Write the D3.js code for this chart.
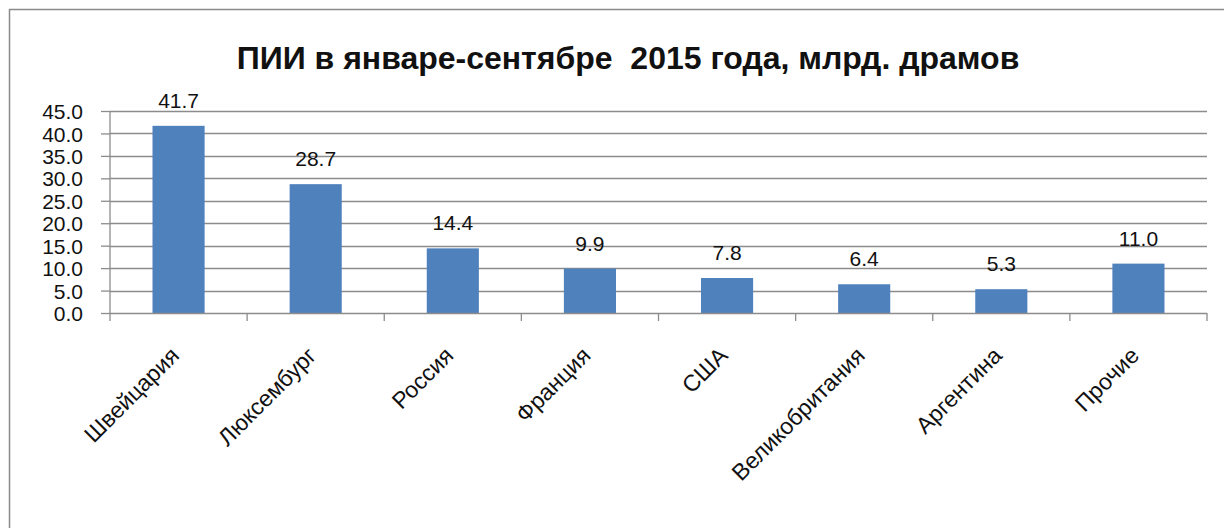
<!DOCTYPE html>
<html>
<head>
<meta charset="utf-8">
<title>ПИИ</title>
<style>
  body { margin: 0; background: #fff; }
  text { font-family: "Liberation Sans", Arial, sans-serif; fill: #111; }
</style>
</head>
<body>
<script src="https://cdn.jsdelivr.net/npm/d3@7"></script>
<script>
var width = 1224;
var height = 528;

var categories = ["Швейцария", "Люксембург", "Россия", "Франция", "США", "Великобритания", "Аргентина", "Прочие"];
var values = [41.7, 28.7, 14.4, 9.9, 7.8, 6.4, 5.3, 11.0];
var yTicks = [0, 5, 10, 15, 20, 25, 30, 35, 40, 45];
var title = "ПИИ в январе-сентябре  2015 года, млрд. драмов";

var margin = {left: 110, right: 17, top: 111, bottom: 215};

var svg = d3.select("body").append("svg")
  .attr("width", width)
  .attr("height", height);

// рамка
svg.append("rect")
  .attr("x", 9.5).attr("y", 9.5)
  .attr("width", width + 20).attr("height", height + 20)
  .attr("fill", "none")
  .attr("stroke", "#8a8a8a")
  .attr("stroke-width", 1.5);

svg.append("text")
  .attr("x", 628).attr("y", 69)
  .attr("text-anchor", "middle")
  .attr("xml:space", "preserve")
  .style("font-size", "32px")
  .style("font-weight", "bold")
  .text(title);

var x = d3.scaleBand()
  .domain(categories)
  .range([margin.left, width - margin.right])
  .paddingInner(0.62)
  .paddingOuter(0.31);

var y = d3.scaleLinear()
  .domain([0, 45])
  .range([height - margin.bottom, margin.top]);

// сетка
svg.append("g")
  .selectAll("line")
  .data(yTicks.slice(1))
  .enter().append("line")
  .attr("x1", margin.left).attr("x2", width - margin.right)
  .attr("y1", function(d) { return Math.round(y(d)) + 0.5; })
  .attr("y2", function(d) { return Math.round(y(d)) + 0.5; })
  .attr("stroke", "#8c8c8c")
  .attr("stroke-width", 1.3);

// ось Y
var yAxis = d3.axisLeft(y)
  .tickValues(yTicks)
  .tickSize(9)
  .tickPadding(18)
  .tickFormat(d3.format(".1f"));
var gy = svg.append("g")
  .attr("transform", "translate(" + margin.left + ",0)")
  .call(yAxis);
gy.selectAll("line, path").attr("stroke", "#8c8c8c").attr("stroke-width", 1.3);
gy.select(".domain").attr("d", "M0," + y(45) + "V" + y(0));
gy.selectAll("text")
  .attr("dy", "0.36em")
  .style("font-size", "21px")
  .style("font-family", "'Liberation Sans', Arial, sans-serif")
  .attr("fill", "#111");

// столбцы
svg.append("g")
  .selectAll("rect")
  .data(values)
  .enter().append("rect")
  .attr("x", function(d, i) { return x(categories[i]); })
  .attr("y", function(d) { return y(d); })
  .attr("width", x.bandwidth())
  .attr("height", function(d) { return y(0) - y(d); })
  .attr("fill", "#4f81bd");

// подписи значений
svg.append("g")
  .selectAll("text")
  .data(values)
  .enter().append("text")
  .attr("x", function(d, i) { return x(categories[i]) + x.bandwidth() / 2; })
  .attr("y", function(d) { return y(d) - 18; })
  .attr("text-anchor", "middle")
  .style("font-size", "21px")
  .text(function(d) { return d.toFixed(1); });

// ось X
var step = x.step();
var xBottom = y(0);
svg.append("line")
  .attr("x1", margin.left).attr("x2", width - margin.right)
  .attr("y1", xBottom + 0.5).attr("y2", xBottom + 0.5)
  .attr("stroke", "#8c8c8c").attr("stroke-width", 1.3);
svg.append("g")
  .selectAll("line")
  .data(d3.range(categories.length + 1))
  .enter().append("line")
  .attr("x1", function(i) { return margin.left + i * step; })
  .attr("x2", function(i) { return margin.left + i * step; })
  .attr("y1", xBottom).attr("y2", xBottom + 8)
  .attr("stroke", "#8c8c8c").attr("stroke-width", 1.3);

svg.append("g")
  .selectAll("text")
  .data(categories)
  .enter().append("text")
  .attr("transform", function(d) {
    var cx = x(d) + x.bandwidth() / 2 + 2;
    return "translate(" + cx + "," + (xBottom + 44) + ") rotate(-45)";
  })
  .attr("text-anchor", "end")
  .style("font-size", "23px")
  .text(function(d) { return d; });
</script>
</body>
</html>
